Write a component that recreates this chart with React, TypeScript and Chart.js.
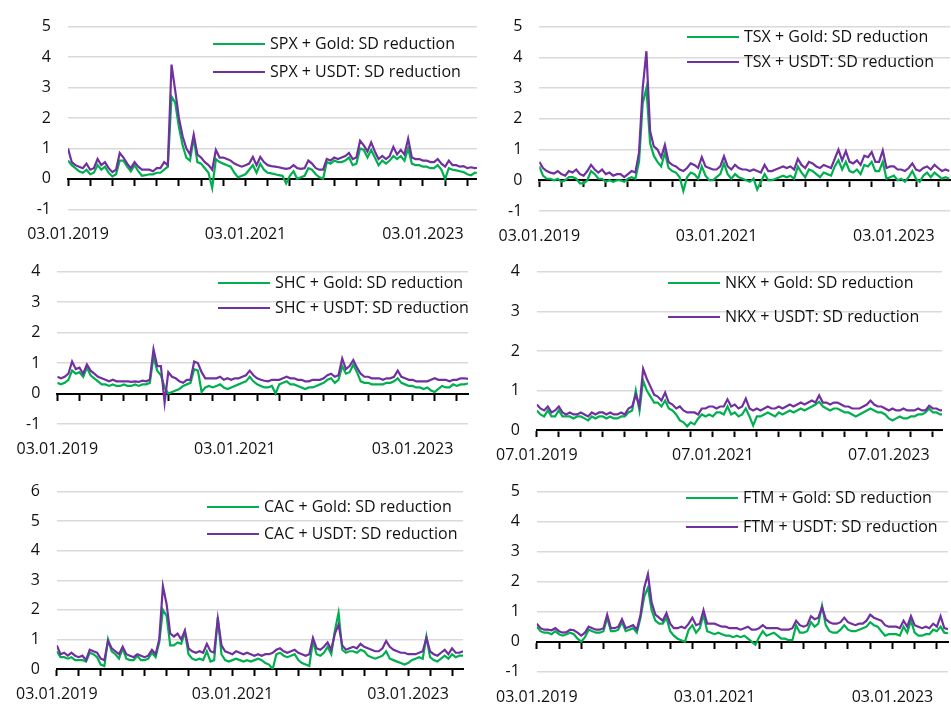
import React, { useEffect, useRef } from "react";
import { Chart, registerables } from "chart.js";

Chart.register(...registerables);

// ---- x positions: months since the first date, half-month steps ----
const months: number[] = Array.from({ length: 112 }, (_, i) => i * 0.5);
const quarterTicks: number[] = Array.from({ length: 19 }, (_, i) => i * 3);
const labelTicks: number[] = [0, 24, 48];
const datesA: string[] = ["03.01.2019", "03.01.2021", "03.01.2023"];
const datesNKX: string[] = ["07.01.2019", "07.01.2021", "07.01.2023"];

// ---- series values ----
const spxUsdt = [
  1.0, 0.55, 0.45, 0.4, 0.35, 0.5, 0.3, 0.35, 0.65, 0.45,
  0.55, 0.35, 0.22, 0.3, 0.85, 0.7, 0.5, 0.35, 0.55, 0.4,
  0.3, 0.3, 0.3, 0.25, 0.35, 0.35, 0.55, 0.45, 3.75, 2.9,
  2.0, 1.4, 1.0, 0.8, 1.45, 0.8, 0.7, 0.55, 0.45, 0.3,
  0.95, 0.7, 0.7, 0.65, 0.6, 0.5, 0.45, 0.4, 0.45, 0.5,
  0.72, 0.45, 0.72, 0.55, 0.45, 0.42, 0.4, 0.38, 0.35, 0.33,
  0.35, 0.45, 0.35, 0.33, 0.35, 0.6, 0.5, 0.35, 0.3, 0.3,
  0.65, 0.6, 0.7, 0.65, 0.7, 0.75, 0.85, 0.65, 0.7, 1.25,
  1.1, 0.9, 1.2, 0.9, 0.65, 0.75, 0.65, 0.75, 1.05, 0.8,
  0.95, 0.8, 1.32, 0.7, 0.65, 0.65, 0.6, 0.6, 0.55, 0.55,
  0.65, 0.5, 0.4, 0.6, 0.45, 0.45, 0.4, 0.42, 0.35, 0.38,
  0.35, 0.36,
];
const spxGold = [
  0.6, 0.45, 0.35, 0.25, 0.2, 0.3, 0.15, 0.2, 0.45, 0.3,
  0.4, 0.2, 0.08, 0.15, 0.6, 0.6, 0.4, 0.25, 0.45, 0.25,
  0.1, 0.12, 0.15, 0.15, 0.2, 0.2, 0.3, 0.4, 2.7, 2.5,
  1.7, 1.1, 0.7, 0.6, 1.35, 0.55, 0.5, 0.35, 0.2, -0.3,
  0.65, 0.55, 0.5, 0.45, 0.4, 0.2, 0.05, 0.1, 0.15, 0.3,
  0.45, 0.2, 0.5, 0.3, 0.2, 0.18, 0.15, 0.12, 0.1, -0.15,
  0.1, 0.25, 0.0, 0.05, 0.1, 0.35, 0.3, 0.15, 0.05, 0.0,
  0.55, 0.5, 0.6, 0.55, 0.55, 0.6, 0.7, 0.45, 0.5, 1.0,
  0.95, 0.7, 0.95, 0.7, 0.45, 0.6, 0.5, 0.6, 0.75, 0.65,
  0.75, 0.6, 1.0, 0.5, 0.45, 0.45, 0.4, 0.4, 0.35, 0.35,
  0.45, 0.3, 0.0, 0.35, 0.3, 0.28, 0.25, 0.22, 0.15, 0.12,
  0.2, 0.2,
];
const tsxUsdt = [
  0.6, 0.4, 0.3, 0.25, 0.22, 0.3, 0.2, 0.15, 0.3, 0.25,
  0.35, 0.2, 0.15, 0.3, 0.5, 0.35, 0.25, 0.35, 0.2, 0.25,
  0.15, 0.2, 0.2, 0.1, 0.2, 0.3, 0.25, 0.9, 3.0, 4.2,
  1.6, 1.1, 1.0, 0.75, 1.15, 0.6, 0.5, 0.45, 0.35, 0.3,
  0.4, 0.55, 0.5, 0.4, 0.75, 0.45, 0.4, 0.35, 0.35, 0.45,
  0.78, 0.45, 0.35, 0.5, 0.4, 0.35, 0.35, 0.3, 0.35, 0.3,
  0.25, 0.5, 0.3, 0.3, 0.35, 0.4, 0.45, 0.4, 0.45, 0.35,
  0.7, 0.5, 0.4, 0.6, 0.55, 0.45, 0.4, 0.5, 0.45, 0.4,
  0.7, 1.0, 0.65, 0.95, 0.6, 0.55, 0.65, 0.5, 0.8, 0.75,
  0.92, 0.6, 0.6, 0.97, 0.4, 0.45, 0.45, 0.35, 0.35, 0.3,
  0.4, 0.55, 0.35, 0.3, 0.4, 0.45, 0.35, 0.5, 0.4, 0.3,
  0.35, 0.3,
];
const tsxGold = [
  0.45, 0.15, 0.05, 0.05, 0.0, 0.05, -0.05, 0.0, 0.1, 0.1,
  0.05, -0.1, -0.1, 0.0, 0.3, 0.2, 0.05, 0.05, -0.05, 0.0,
  -0.05, 0.0, 0.0, -0.05, 0.05, 0.1, 0.05, 0.6, 2.5, 3.0,
  1.2, 0.8, 0.6, 0.45, 0.9, 0.4, 0.3, 0.25, 0.1, -0.35,
  0.1, 0.25, 0.2, 0.05, 0.45, 0.15, 0.0, 0.0, 0.1, 0.2,
  0.55, 0.2, 0.05, 0.2, 0.1, 0.05, 0.0, -0.05, 0.05, -0.3,
  -0.05, 0.2, 0.0, 0.0, 0.05, 0.1, 0.15, 0.1, 0.15, 0.05,
  0.45, 0.25, 0.1, 0.35, 0.3, 0.2, 0.1, 0.25, 0.2, 0.15,
  0.45, 0.65, 0.35, 0.6, 0.3, 0.25, 0.35, 0.2, 0.5, 0.45,
  0.6, 0.3, 0.3, 0.6, 0.05, 0.1, 0.15, 0.0, 0.05, -0.05,
  0.1, 0.3, 0.05, -0.05, 0.15, 0.25, 0.1, 0.25, 0.15, 0.05,
  0.1, 0.05,
];
const shcUsdt = [
  0.55, 0.5, 0.55, 0.65, 1.05, 0.8, 0.85, 0.65, 0.95, 0.75,
  0.65, 0.55, 0.5, 0.45, 0.4, 0.45, 0.4, 0.4, 0.4, 0.4,
  0.38, 0.4, 0.38, 0.42, 0.4, 0.45, 1.45, 0.9, 0.9, -0.3,
  0.7, 0.55, 0.5, 0.4, 0.35, 0.45, 0.45, 1.05, 1.0, 0.7,
  0.5, 0.5, 0.5, 0.5, 0.55, 0.45, 0.5, 0.45, 0.5, 0.5,
  0.55, 0.6, 0.75, 0.6, 0.5, 0.45, 0.42, 0.4, 0.45, 0.45,
  0.45, 0.5, 0.55, 0.5, 0.5, 0.45, 0.45, 0.4, 0.4, 0.45,
  0.45, 0.45, 0.5, 0.6, 0.65, 0.55, 0.6, 1.15, 0.8, 0.9,
  1.1, 0.85, 0.65, 0.55, 0.55, 0.5, 0.5, 0.5, 0.45, 0.5,
  0.5, 0.55, 0.75, 0.55, 0.5, 0.45, 0.45, 0.4, 0.4, 0.4,
  0.4, 0.45, 0.5, 0.45, 0.45, 0.45, 0.4, 0.45, 0.45, 0.5,
  0.5, 0.48,
];
const shcGold = [
  0.35, 0.3, 0.35, 0.45, 0.75, 0.65, 0.7, 0.55, 0.85, 0.6,
  0.5, 0.4, 0.3, 0.3, 0.25, 0.3, 0.25, 0.25, 0.3, 0.25,
  0.25, 0.3, 0.25, 0.3, 0.3, 0.35, 1.2, 0.75, 0.6, 0.2,
  0.0, 0.05, 0.1, 0.15, 0.25, 0.3, 0.35, 0.8, 0.75, 0.05,
  0.2, 0.25, 0.2, 0.25, 0.3, 0.2, 0.15, 0.2, 0.25, 0.3,
  0.35, 0.4, 0.55, 0.4, 0.3, 0.25, 0.2, 0.2, 0.25, 0.0,
  0.3, 0.35, 0.4, 0.3, 0.3, 0.25, 0.2, 0.15, 0.2, 0.2,
  0.25, 0.3, 0.35, 0.45, 0.5, 0.35, 0.45, 0.9, 0.65, 0.7,
  0.95, 0.7, 0.4, 0.35, 0.35, 0.3, 0.3, 0.3, 0.3, 0.35,
  0.35, 0.4, 0.5, 0.35, 0.3, 0.25, 0.25, 0.2, 0.2, 0.15,
  0.2, 0.1, 0.05, 0.15, 0.25, 0.2, 0.2, 0.3, 0.25, 0.3,
  0.3, 0.33,
];
const nkxUsdt = [
  0.65, 0.55, 0.5, 0.6, 0.45, 0.5, 0.6, 0.45, 0.4, 0.45,
  0.4, 0.4, 0.45, 0.4, 0.35, 0.45, 0.4, 0.45, 0.45, 0.4,
  0.45, 0.4, 0.4, 0.45, 0.4, 0.55, 0.6, 0.9, 0.6, 1.55,
  1.3, 1.1, 0.9, 0.85, 0.75, 0.95, 0.7, 0.65, 0.55, 0.6,
  0.5, 0.45, 0.45, 0.45, 0.4, 0.55, 0.55, 0.6, 0.6, 0.55,
  0.6, 0.6, 0.78, 0.6, 0.65, 0.55, 0.6, 0.8, 0.55, 0.5,
  0.55, 0.5, 0.55, 0.6, 0.55, 0.55, 0.6, 0.55, 0.6, 0.65,
  0.6, 0.65, 0.7, 0.65, 0.7, 0.75, 0.7, 0.88, 0.7, 0.7,
  0.65, 0.7, 0.7, 0.65, 0.6, 0.6, 0.55, 0.55, 0.55, 0.6,
  0.65, 0.75, 0.65, 0.6, 0.6, 0.55, 0.5, 0.55, 0.5, 0.5,
  0.55, 0.5, 0.5, 0.5, 0.55, 0.5, 0.5, 0.62, 0.55, 0.55,
  0.5, 0.52,
];
const nkxGold = [
  0.5, 0.4, 0.35, 0.5, 0.35, 0.35, 0.5, 0.35, 0.35, 0.35,
  0.3, 0.35, 0.35, 0.3, 0.25, 0.35, 0.3, 0.35, 0.35, 0.3,
  0.35, 0.3, 0.3, 0.35, 0.35, 0.45, 0.5, 1.0, 0.5, 1.25,
  1.0, 0.85, 0.7, 0.7, 0.6, 0.75, 0.55, 0.5, 0.4, 0.25,
  0.2, 0.1, 0.2, 0.15, 0.3, 0.4, 0.35, 0.4, 0.35, 0.45,
  0.45, 0.4, 0.6, 0.4, 0.45, 0.35, 0.4, 0.55, 0.35, 0.12,
  0.35, 0.35, 0.4, 0.45, 0.4, 0.35, 0.45, 0.4, 0.45, 0.5,
  0.45, 0.5, 0.55, 0.5, 0.55, 0.6, 0.65, 0.72, 0.6, 0.55,
  0.5, 0.55, 0.55, 0.5, 0.45, 0.45, 0.4, 0.35, 0.4, 0.45,
  0.5, 0.55, 0.5, 0.45, 0.45, 0.4, 0.3, 0.25, 0.3, 0.35,
  0.3, 0.3, 0.35, 0.35, 0.4, 0.4, 0.45, 0.55, 0.45, 0.45,
  0.4, 0.4,
];
const cacUsdt = [
  0.8, 0.5, 0.55, 0.45, 0.55, 0.45, 0.4, 0.45, 0.3, 0.65,
  0.6, 0.55, 0.35, 0.3, 0.95, 0.7, 0.6, 0.5, 0.75, 0.5,
  0.45, 0.4, 0.5, 0.45, 0.4, 0.45, 0.65, 0.5, 1.0, 2.8,
  2.2, 1.2, 1.1, 1.2, 1.0, 1.3, 0.7, 0.6, 0.55, 0.6,
  0.55, 0.85, 0.6, 0.55, 1.7, 0.8, 0.6, 0.55, 0.5, 0.6,
  0.55, 0.5, 0.55, 0.5, 0.45, 0.5, 0.45, 0.5, 0.5, 0.55,
  0.65, 0.7, 0.6, 0.55, 0.6, 0.65, 0.55, 0.5, 0.45, 0.5,
  1.05, 0.7, 0.65, 0.75, 0.9, 0.65, 1.2, 1.5, 0.8, 0.65,
  0.7, 0.75, 0.7, 0.85, 0.75, 0.7, 0.65, 0.6, 0.6, 0.7,
  0.95, 0.75, 0.65, 0.6, 0.55, 0.55, 0.5, 0.5, 0.5, 0.55,
  0.6, 1.05, 0.6, 0.5, 0.45, 0.55, 0.65, 0.5, 0.7, 0.55,
  0.55, 0.6,
];
const cacGold = [
  0.6, 0.4, 0.4, 0.35, 0.4, 0.3, 0.3, 0.3, 0.25, 0.55,
  0.5, 0.4, 0.15, 0.1, 1.0, 0.6, 0.5, 0.35, 0.7, 0.35,
  0.3, 0.3, 0.45, 0.3, 0.3, 0.35, 0.55, 0.4, 0.9, 2.0,
  1.8, 0.8, 0.8, 0.9, 0.85, 1.25, 0.5, 0.35, 0.3, 0.35,
  0.3, 0.6, 0.25, 0.3, 1.75, 0.5, 0.3, 0.25, 0.3, 0.35,
  0.3, 0.25, 0.3, 0.25, 0.3, 0.35, 0.3, 0.2, 0.15, 0.0,
  0.5, 0.55, 0.45, 0.4, 0.45, 0.5, 0.3, 0.2, 0.15, 0.1,
  0.95, 0.5, 0.45, 0.55, 0.75, 0.5, 1.3, 1.9, 0.65, 0.55,
  0.6, 0.6, 0.55, 0.65, 0.6, 0.45, 0.4, 0.35, 0.4, 0.45,
  0.6, 0.35, 0.3, 0.25, 0.2, 0.15, 0.2, 0.3, 0.35, 0.4,
  0.35, 1.1, 0.4, 0.3, 0.25, 0.35, 0.45, 0.35, 0.5, 0.4,
  0.45, 0.45,
];
const ftmUsdt = [
  0.6, 0.45, 0.4, 0.4, 0.38, 0.45, 0.35, 0.3, 0.32, 0.4,
  0.38, 0.3, 0.2, 0.3, 0.5, 0.45, 0.4, 0.4, 0.45, 0.9,
  0.45, 0.45, 0.5, 0.75, 0.45, 0.5, 0.55, 0.4, 0.9, 1.8,
  2.25, 1.3, 0.9, 0.8, 0.7, 0.95, 0.6, 0.45, 0.45, 0.5,
  0.45, 0.6, 0.8, 0.55, 0.6, 1.05, 0.6, 0.6, 0.6, 0.55,
  0.5, 0.5, 0.45, 0.45, 0.45, 0.4, 0.45, 0.5, 0.4, 0.4,
  0.45, 0.55, 0.45, 0.45, 0.45, 0.45, 0.4, 0.4, 0.4, 0.45,
  0.7, 0.55, 0.5, 0.55, 0.85, 0.75, 0.8, 1.15, 0.75, 0.65,
  0.6, 0.6, 0.65, 0.8, 0.65, 0.6, 0.55, 0.6, 0.6, 0.7,
  0.9, 0.8, 0.75, 0.7, 0.55, 0.5, 0.5, 0.5, 0.45, 0.7,
  0.5, 0.85, 0.55, 0.5, 0.45, 0.5, 0.45, 0.6, 0.5, 0.85,
  0.45, 0.42,
];
const ftmGold = [
  0.5, 0.35, 0.3, 0.3, 0.25, 0.35, 0.25, 0.2, 0.25, 0.3,
  0.25, 0.1, 0.0, 0.15, 0.4, 0.35, 0.3, 0.3, 0.35, 0.8,
  0.35, 0.35, 0.4, 0.65, 0.35, 0.4, 0.45, 0.3, 0.8, 1.5,
  1.8, 1.05, 0.7, 0.6, 0.6, 0.8, 0.35, 0.2, 0.1, 0.05,
  0.0, 0.4, 0.55, 0.3, 0.45, 0.9, 0.35, 0.3, 0.25, 0.3,
  0.25, 0.2, 0.2, 0.15, 0.2, 0.15, 0.2, 0.1, 0.0, -0.1,
  0.15, 0.35, 0.2, 0.25, 0.3, 0.2, 0.1, 0.1, 0.05, 0.05,
  0.55, 0.3, 0.3, 0.35, 0.65, 0.5, 0.6, 1.2, 0.55, 0.35,
  0.3, 0.3, 0.4, 0.55, 0.4, 0.35, 0.35, 0.4, 0.45, 0.5,
  0.65, 0.55, 0.5, 0.35, 0.2, 0.25, 0.25, 0.25, 0.2, 0.5,
  0.3, 0.7, 0.3, 0.2, 0.2, 0.25, 0.25, 0.4, 0.35, 0.5,
  0.3, 0.28,
];

// ---- styling ----
const GREEN = "#00B050";
const PURPLE = "#7030A0";
const TEXT = "#111111";
const GRID = "#d9d9d9";
const FONT_FAMILY = "'Open Sans', 'DejaVu Sans', sans-serif";
const FONT_SIZE = 16;

type PanelCfg = {
  name: string;
  gold: number[];
  usdt: number[];
  yMin: number;
  yMax: number;
  dates: string[];
  box: [number, number, number, number]; // left, top, width, height of canvas
  area: [number, number, number, number]; // chart area left, right, top, bottom (canvas px)
  xMax: number;
  legend: [number, number, number]; // line start x, first row y, row gap
};

const panels: PanelCfg[] = [
  { name: "SPX", gold: spxGold, usdt: spxUsdt, yMin: -1, yMax: 5, dates: datesA, box: [0, 0, 480, 245], area: [68, 478, 14.3, 209.3], xMax: 55.3, legend: [213, 44, 28] },
  { name: "TSX", gold: tsxGold, usdt: tsxUsdt, yMin: -1, yMax: 5, dates: datesA, box: [480, 0, 471, 245], area: [59.3, 470, 14.3, 211], xMax: 55.6, legend: [207, 37, 25] },
  { name: "SHC", gold: shcGold, usdt: shcUsdt, yMin: -1, yMax: 4, dates: datesA, box: [0, 245, 480, 220], area: [57.3, 468, 20.7, 179], xMax: 55.5, legend: [218, 38, 25] },
  { name: "NKX", gold: nkxGold, usdt: nkxUsdt, yMin: 0, yMax: 4, dates: datesNKX, box: [480, 245, 471, 220], area: [56, 462, 21.7, 185.3], xMax: 55.25, legend: [188, 38, 34] },
  { name: "CAC", gold: cacGold, usdt: cacUsdt, yMin: 0, yMax: 6, dates: datesA, box: [0, 465, 480, 240], area: [50.7, 463, 25, 204], xMax: 55.5, legend: [207, 42, 27] },
  { name: "FTM", gold: ftmGold, usdt: ftmUsdt, yMin: -1, yMax: 5, dates: datesA, box: [480, 465, 471, 240], area: [47.3, 468, 16, 206.7], xMax: 55.5, legend: [206, 33, 29] },
];

const insideLegend = {
  id: "insideLegend",
  afterDraw(chart: any, _args: any, opts: any) {
    const ctx = chart.ctx as CanvasRenderingContext2D;
    ctx.save();
    chart.data.datasets.forEach((ds: any, i: number) => {
      const y = opts.y + i * opts.gap;
      ctx.strokeStyle = ds.borderColor;
      ctx.lineWidth = 2;
      ctx.beginPath();
      ctx.moveTo(opts.x, y);
      ctx.lineTo(opts.x + opts.len, y);
      ctx.stroke();
      ctx.fillStyle = TEXT;
      ctx.font = `${FONT_SIZE}px ${FONT_FAMILY}`;
      ctx.textBaseline = "middle";
      ctx.textAlign = "left";
      ctx.fillText(ds.label, opts.x + opts.len + opts.textGap, y);
    });
    ctx.restore();
  },
};

function Panel({ cfg }: { cfg: PanelCfg }) {
  const ref = useRef<HTMLCanvasElement>(null);
  const [left, top, w, h] = cfg.box;
  useEffect(() => {
    const [aL, aR, aT, aB] = cfg.area;
    const font = { family: FONT_FAMILY, size: FONT_SIZE };
    const chart = new Chart(ref.current as HTMLCanvasElement, {
      type: "line",
      data: {
        datasets: [
          {
            label: `${cfg.name} + Gold: SD reduction`,
            data: months.map((m, i) => ({ x: m, y: cfg.gold[i] })),
            borderColor: GREEN,
            backgroundColor: GREEN,
            borderWidth: 2.2,
            pointRadius: 0,
            tension: 0,
            order: 2,
            xAxisID: "x",
            yAxisID: "y",
          },
          {
            label: `${cfg.name} + USDT: SD reduction`,
            data: months.map((m, i) => ({ x: m, y: cfg.usdt[i] })),
            borderColor: PURPLE,
            backgroundColor: PURPLE,
            borderWidth: 2.2,
            pointRadius: 0,
            tension: 0,
            order: 1,
            xAxisID: "x",
            yAxisID: "y",
          },
        ],
      },
      options: {
        responsive: false,
        animation: false,
        events: [],
        layout: { padding: { top: aT, right: w - aR, left: 0, bottom: 0 } },
        plugins: {
          legend: { display: false },
          tooltip: { enabled: false },
          insideLegend: { x: cfg.legend[0], y: cfg.legend[1], gap: cfg.legend[2], len: 52, textGap: 5 },
        } as any,
        scales: {
          x: {
            type: "linear",
            position: { y: 0 } as any,
            min: 0,
            max: cfg.xMax,
            afterBuildTicks: (s: any) => {
              s.ticks = quarterTicks.map((v) => ({ value: v }));
            },
            ticks: { display: false },
            grid: {
              display: true,
              drawOnChartArea: false,
              drawTicks: true,
              tickLength: 6,
              tickWidth: 2,
              tickColor: "#000",
            },
            border: { display: true, color: "#000", width: 2 },
          },
          x2: {
            type: "linear",
            position: "bottom",
            min: 0,
            max: cfg.xMax,
            afterBuildTicks: (s: any) => {
              s.ticks = labelTicks.map((v) => ({ value: v }));
            },
            afterFit: (s: any) => {
              s.height = h - aB;
            },
            ticks: {
              autoSkip: false,
              maxRotation: 0,
              padding: 16,
              color: TEXT,
              font,
              callback: (v: any) => cfg.dates[labelTicks.indexOf(Number(v))] ?? "",
            },
            grid: { display: false, drawTicks: false },
            border: { display: false },
          },
          y: {
            type: "linear",
            position: "left",
            min: cfg.yMin,
            max: cfg.yMax,
            afterFit: (s: any) => {
              s.width = aL;
            },
            ticks: { stepSize: 1, padding: 17, color: TEXT, font },
            grid: { color: GRID, lineWidth: 1.5, drawTicks: false },
            border: { display: false },
          },
        } as any,
      },
      plugins: [insideLegend as any],
    });
    return () => chart.destroy();
  }, []);
  return (
    <canvas
      ref={ref}
      width={w}
      height={h}
      style={{ position: "absolute", left, top, width: w, height: h }}
    />
  );
}

export default function App() {
  return (
    <div style={{ position: "absolute", left: 0, top: 0, width: 951, height: 705, background: "#fff" }}>
      {panels.map((p) => (
        <Panel key={p.name} cfg={p} />
      ))}
    </div>
  );
}
